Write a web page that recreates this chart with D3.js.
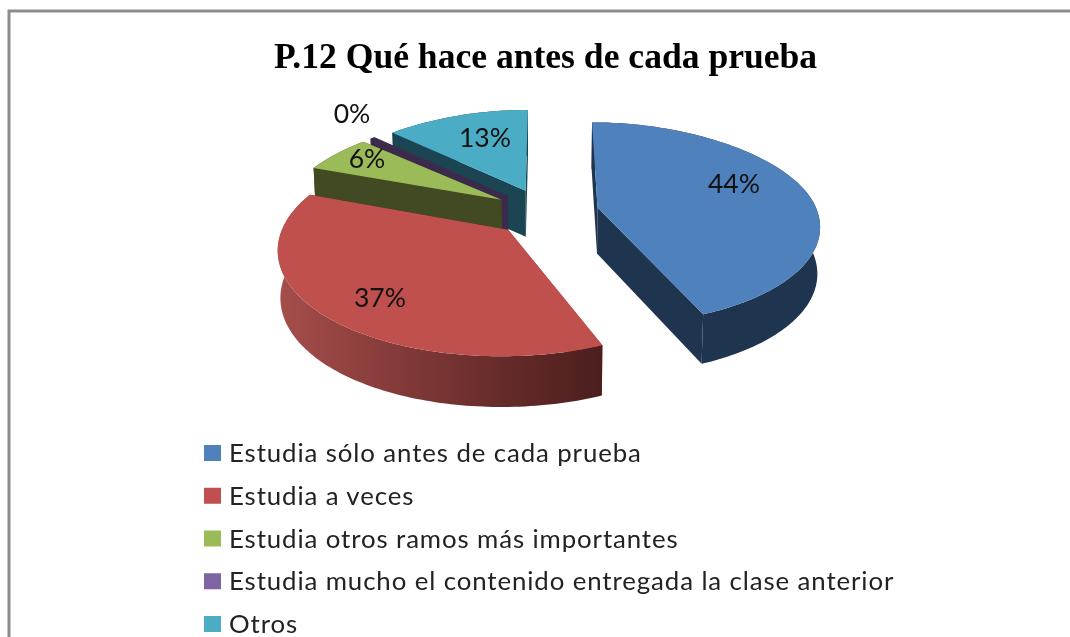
<!DOCTYPE html>
<html><head><meta charset="utf-8">
<script src="https://cdnjs.cloudflare.com/ajax/libs/d3/7.8.5/d3.min.js"></script>
<style>html,body{margin:0;padding:0;background:#fff;overflow:hidden}svg{display:block;filter:blur(0.45px)}</style>
</head><body>
<script>
const titleText = "P.12 Qué hace antes de cada prueba";
const categories = ["Estudia sólo antes de cada prueba","Estudia a veces","Estudia otros ramos más importantes","Estudia mucho el contenido entregada la clase anterior","Otros"];
const values = [44,37,6,0.4,13];
const valueLabels = ["44%","37%","6%","0%","13%"];
const colors = ["#4f81bd","#c0504d","#9bbb59","#8064a2","#4bacc6"];
const topColors = ["#4f81bd","#c0504d","#9bbb59","#3e2c50","#4bacc6"];
const wallColors = ["#1f344f","url(#redWall)","#414a22","#3b2a4b","#1c4553"];
const labelPos = [[734,184],[380,298],[367,159],[352,114],[485,138]];
const drawOrder = [4,3,2,0,1];

const W=1070,H=637;
const svg=d3.select("body").append("svg").attr("width",W).attr("height",H);
const defs=svg.append("defs");
const g=defs.append("linearGradient").attr("id","redWall").attr("gradientUnits","userSpaceOnUse")
  .attr("x1",280).attr("x2",600).attr("y1",0).attr("y2",0);
[[0,"#a54e4b"],[0.35,"#853b39"],[0.7,"#652b2a"],[1,"#4c1f1e"]].forEach(s=>g.append("stop").attr("offset",s[0]).attr("stop-color",s[1]));

svg.append("rect").attr("x",9).attr("y",11).attr("width",W+20).attr("height",H+20)
  .attr("fill","#fff").attr("stroke","#8c8c8c").attr("stroke-width",3);

svg.append("text").attr("x",545.5).attr("y",68).attr("text-anchor","middle")
  .attr("font-family","Liberation Serif").attr("font-weight","bold").attr("font-size",35.6).attr("fill","#000").text(titleText);

// projection of the exploded disc
const X0=546,Y0=212,RX=220,RY=100,P=0.16,PCURVE=0.05,POFF=0.12,EXPL=0.24;
const baseDepth=46;
function project(ox,u,V,bottom){
  const w=1-P*V, wx=V<0?w+PCURVE*V*V:w, wo=V<0?1-POFF*V:w;
  let x=X0+RX*(ox/wo+u/wx), y=Y0+RY*V/w;
  if(bottom){ x=X0+(x-X0)*0.99; y+=baseDepth+4*Math.max(V,0); }
  return [x,y];
}
const pie=d3.pie().sort(null).startAngle(0).endAngle(2*Math.PI)(values);
const line=d3.line();
function rimPts(d,bottom){
  const mid=(d.startAngle+d.endAngle)/2, ox=EXPL*Math.sin(mid), oy=-EXPL*Math.cos(mid);
  const n=Math.max(2,Math.ceil((d.endAngle-d.startAngle)/0.02));
  return d3.range(n+1).map(i=>{
    const a=d.startAngle+(d.endAngle-d.startAngle)*i/n;
    return project(ox,Math.sin(a),oy-Math.cos(a),bottom);
  });
}
function apex(d,bottom){
  const mid=(d.startAngle+d.endAngle)/2;
  return project(EXPL*Math.sin(mid),0,-EXPL*Math.cos(mid),bottom);
}
const chart=svg.append("g");
drawOrder.forEach(i=>{
  const d=pie[i], top=rimPts(d,false), bot=rimPts(d,true), a=apex(d,false), b=apex(d,true);
  const wall=wallColors[i];
  const solid=i===1?"#4c1f1e":wall;
  chart.append("path").attr("d",line([a,top[0],bot[0],b])+"Z").attr("fill",i===1?"#a54e4b":wall);
  chart.append("path").attr("d",line([a,top[top.length-1],bot[bot.length-1],b])+"Z").attr("fill",solid);
  chart.append("path").attr("d",line(top.concat(bot.slice().reverse()))+"Z").attr("fill",wall);
  chart.append("path").attr("d",line([a].concat(top))+"Z").attr("fill",topColors[i]);
});

svg.append("g").selectAll("text").data(valueLabels).join("text")
  .attr("x",(d,i)=>labelPos[i][0]).attr("y",(d,i)=>labelPos[i][1]+9)
  .attr("text-anchor","middle").attr("font-family","Lato").attr("font-size",26.5).attr("fill","#111").text(d=>d);

const legendY=d3.scalePoint().domain(categories).range([453,624]);
const leg=svg.append("g").selectAll("g").data(categories).join("g")
  .attr("transform",d=>`translate(204,${legendY(d)})`);
leg.append("rect").attr("x",0).attr("y",-8).attr("width",17).attr("height",16).attr("fill",(d,i)=>colors[i]);
leg.append("text").attr("x",25).attr("y",9).attr("font-family","Lato").attr("font-size",25.8).attr("letter-spacing",0.9).attr("fill","#222").text(d=>d);
</script>
</body></html>
